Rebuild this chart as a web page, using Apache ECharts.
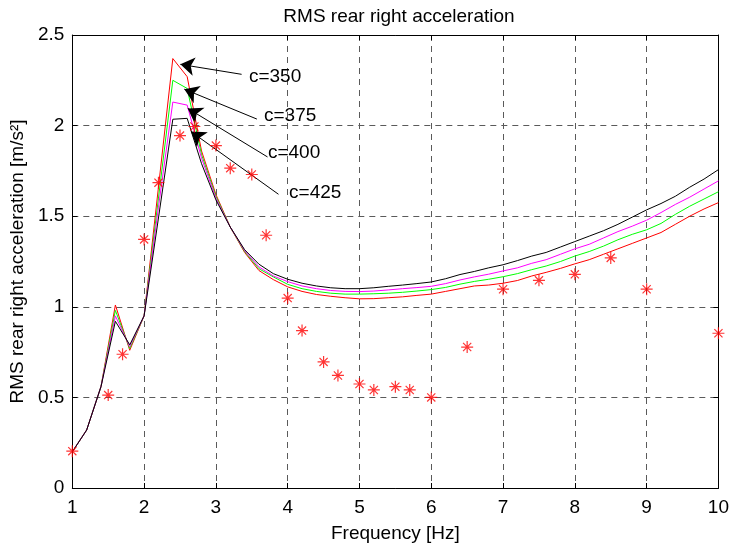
<!DOCTYPE html>
<html>
<head>
<meta charset="utf-8">
<script src="https://cdn.jsdelivr.net/npm/echarts@6/dist/echarts.min.js"></script>
<style>
html,body{margin:0;padding:0;background:#fff;}
#chart{width:732px;height:548px;}
</style>
</head>
<body>
<div id="chart"></div>
<script>
// ---- data ----
const freq = [1.0,1.2,1.4,1.6,1.8,2.0,2.2,2.4,2.6,2.8,3.0,3.2,3.4,3.6,3.8,4.0,4.2,4.4,4.6,4.8,5.0,5.2,5.4,5.6,5.8,6.0,6.2,6.4,6.6,6.8,7.0,7.2,7.4,7.6,7.8,8.0,8.2,8.4,8.6,8.8,9.0,9.2,9.4,9.6,9.8,10.0];
const c350 = [0.20,0.32,0.56,1.01,0.76,0.95,1.66,2.37,2.27,1.86,1.62,1.44,1.30,1.20,1.15,1.11,1.085,1.068,1.058,1.05,1.044,1.045,1.05,1.055,1.063,1.07,1.085,1.10,1.115,1.12,1.13,1.145,1.17,1.19,1.212,1.237,1.26,1.29,1.32,1.35,1.38,1.41,1.455,1.50,1.54,1.575];
const c375 = [0.20,0.32,0.56,0.98,0.77,0.95,1.60,2.25,2.205,1.84,1.61,1.44,1.305,1.21,1.165,1.124,1.10,1.085,1.075,1.07,1.07,1.072,1.075,1.08,1.087,1.095,1.107,1.125,1.14,1.152,1.166,1.183,1.205,1.225,1.25,1.28,1.305,1.335,1.37,1.40,1.425,1.46,1.51,1.555,1.595,1.635];
const c400 = [0.20,0.32,0.56,0.95,0.78,0.95,1.55,2.13,2.113,1.82,1.60,1.44,1.31,1.22,1.17,1.139,1.115,1.10,1.09,1.085,1.084,1.087,1.093,1.10,1.106,1.113,1.128,1.148,1.165,1.18,1.198,1.215,1.24,1.26,1.29,1.32,1.345,1.38,1.415,1.445,1.478,1.52,1.565,1.605,1.65,1.695];
const c425 = [0.20,0.32,0.56,0.92,0.79,0.95,1.49,2.035,2.04,1.79,1.59,1.44,1.315,1.235,1.183,1.152,1.13,1.115,1.105,1.10,1.10,1.105,1.113,1.12,1.128,1.137,1.155,1.178,1.195,1.215,1.232,1.255,1.28,1.30,1.33,1.36,1.39,1.42,1.455,1.495,1.535,1.57,1.61,1.66,1.705,1.757];
const measFreq = [1.0,1.5,1.7,2.0,2.2,2.5,2.7,3.0,3.2,3.5,3.7,4.0,4.2,4.5,4.7,5.0,5.2,5.5,5.7,6.0,6.5,7.0,7.5,8.0,8.5,9.0,10.0];
const measVal  = [0.203,0.513,0.738,1.372,1.685,1.945,1.995,1.89,1.765,1.73,1.395,1.048,0.869,0.696,0.621,0.574,0.541,0.559,0.541,0.50,0.778,1.097,1.146,1.179,1.27,1.097,0.854];
const annotLabels = ['c=350','c=375','c=400','c=425'];
const annotText   = [[3.46,2.272],[3.67,2.053],[3.725,1.85],[4.02,1.631]];
const annotFrom   = [[3.358,2.283],[3.571,2.036],[3.719,1.827],[3.872,1.621]];
const annotTo     = [[2.505,2.338],[2.560,2.201],[2.608,2.095],[2.653,1.967]];
const xTicks = [1,2,3,4,5,6,7,8,9,10];
const yTicks = [0,0.5,1,1.5,2,2.5];
// ---- chart ----
const FONT = 'Liberation Sans';
const FS = 19;
const pairs = (xs, ys) => xs.map((x, i) => [x, ys[i]]);
const chart = echarts.init(document.getElementById('chart'), null, {renderer: 'canvas'});
const gridDash = {show: true, lineStyle: {color: '#5a5a5a', width: 1, type: [6, 5]}};
const axisCommon = {
  axisLine: {show: true, onZero: false, lineStyle: {color: '#000', width: 1}},
  axisTick: {show: true, inside: true, length: 5, lineStyle: {color: '#000'}},
};
const lineSeries = (name, vals, color) => ({
  name, type: 'line', data: pairs(freq, vals), showSymbol: false, symbol: 'none',
  lineStyle: {color, width: 1}, itemStyle: {color}, z: 3
});
const starPath = 'path://M5,0L5,10M0,5L10,5M1.6,1.6L8.4,8.4M1.6,8.4L8.4,1.6';
const option = {
  animation: false,
  backgroundColor: '#fff',
  title: {
    text: 'RMS rear right acceleration', left: 394, top: 2, textAlign: 'center',
    textStyle: {fontFamily: FONT, fontSize: FS, fontWeight: 'normal', color: '#000'}
  },
  grid: {left: 71, right: 13, top: 35, bottom: 56, containLabel: false},
  xAxis: [
    Object.assign({
      type: 'value', min: xTicks[0], max: xTicks[xTicks.length - 1], interval: 1,
      name: 'Frequency [Hz]', nameLocation: 'middle', nameGap: 36,
      nameTextStyle: {fontFamily: FONT, fontSize: FS, color: '#000'},
      axisLabel: {fontFamily: FONT, fontSize: FS, color: '#000', margin: 10},
      splitLine: gridDash
    }, axisCommon),
    Object.assign({
      type: 'value', position: 'top', min: 1, max: 10, interval: 1,
      axisLabel: {show: false}, splitLine: {show: false}
    }, axisCommon)
  ],
  yAxis: [
    Object.assign({
      type: 'value', min: yTicks[0], max: yTicks[yTicks.length - 1], interval: 0.5,
      name: 'RMS rear right acceleration [m/s²]', nameLocation: 'middle', nameGap: 40,
      nameTextStyle: {fontFamily: FONT, fontSize: FS, color: '#000'},
      axisLabel: {fontFamily: FONT, fontSize: FS, color: '#000', margin: 8},
      splitLine: gridDash
    }, axisCommon),
    Object.assign({
      type: 'value', position: 'right', min: 0, max: 2.5, interval: 0.5,
      axisLabel: {show: false}, splitLine: {show: false}
    }, axisCommon)
  ],
  series: [
    lineSeries('c=350', c350, '#ff0000'),
    lineSeries('c=375', c375, '#00ff00'),
    lineSeries('c=400', c400, '#ff00ff'),
    Object.assign(lineSeries('c=425', c425, '#000000'), {
      markLine: {
        silent: true, animation: false,
        symbol: ['none', 'arrow'], symbolSize: 14,
        label: {show: false},
        lineStyle: {color: '#000', width: 1, type: 'solid'},
        itemStyle: {color: '#000'},
        emphasis: {disabled: true},
        data: annotFrom.map((f, i) => [
          {coord: f},
          {coord: annotTo[i]}
        ])
      },
      markPoint: {
        silent: true, animation: false,
        symbol: 'circle', symbolSize: 0,
        label: {show: true, position: 'right', distance: 0, formatter: p => p.name,
          fontFamily: FONT, fontSize: FS, color: '#000'},
        data: annotLabels.map((t, i) => ({name: t, coord: annotText[i]}))
      }
    }),
    {
      name: 'measured', type: 'scatter', data: pairs(measFreq, measVal),
      symbol: starPath, symbolSize: 12,
      itemStyle: {color: 'rgba(0,0,0,0)', borderColor: '#ff0000', borderWidth: 1.2},
      z: 5
    }
  ]
};
chart.setOption(option);
</script>
</body>
</html>
